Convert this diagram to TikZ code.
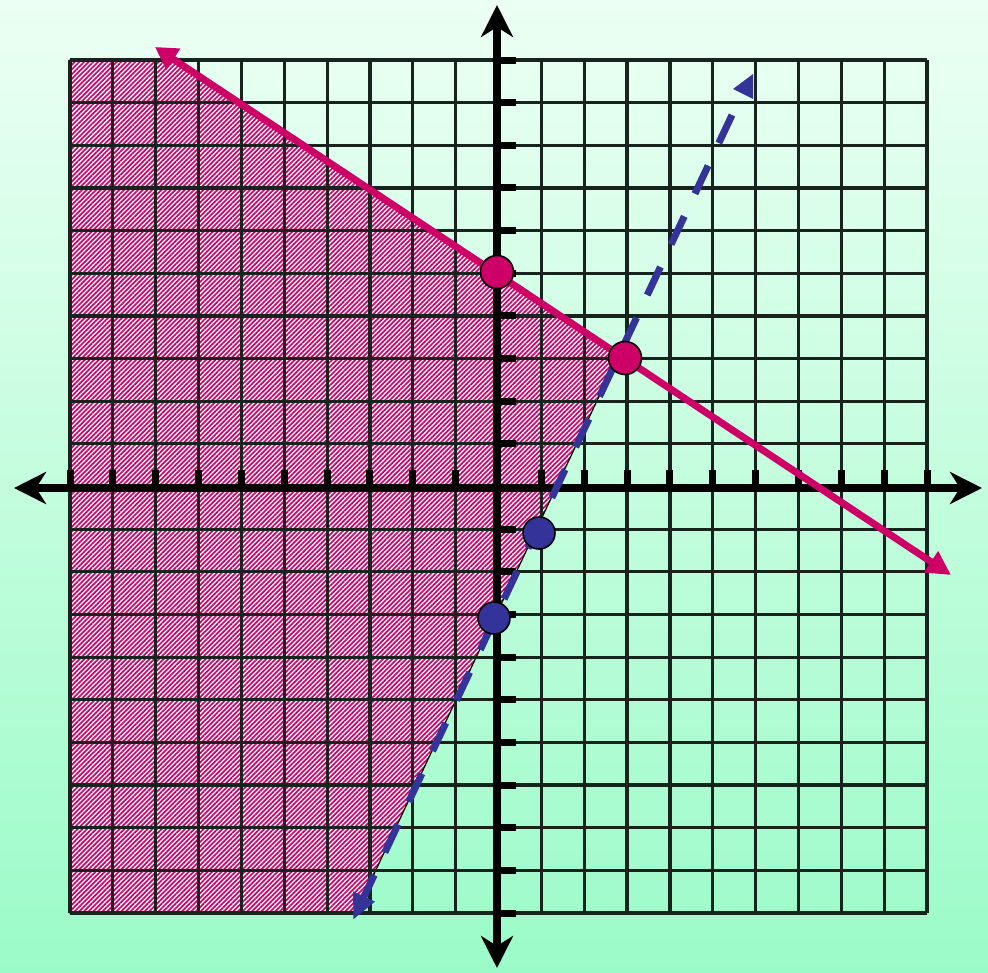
\documentclass[tikz,border=0pt]{standalone}
\usetikzlibrary{arrows.meta,patterns.meta}
\definecolor{hotred}{RGB}{204,0,102}
\definecolor{navyblue}{RGB}{51,51,153}
\definecolor{bgtop}{RGB}{236,255,244}
\definecolor{bgbot}{RGB}{155,251,200}
\definecolor{gridcol}{RGB}{25,35,30}
\tikzset{
  gridline/.style={draw=gridcol,line width=3.2pt},
  axisline/.style={draw=black,line width=8pt,{Stealth[length=32pt,width=32pt,inset=10pt]}-{Stealth[length=32pt,width=32pt,inset=10pt]}},
  tickmark/.style={draw=black,line width=7pt},
  redline/.style={draw=hotred,line width=7pt,{Triangle[length=22pt,width=24pt]}-{Triangle[length=24pt,width=24pt]}},
  blueline/.style={draw=navyblue,line width=7pt,dash pattern=on 31pt off 25pt,-{Triangle[length=26pt,width=22pt]}},
  hatch/.style={pattern={Lines[angle=45,distance=3.3pt,line width=1.7pt]},pattern color=hotred,preaction={fill=white},draw=black,line width=1.2pt},
  redpt/.style={circle,minimum size=33pt,inner sep=0pt,fill=hotred,draw=black,line width=1.6pt},
  bluept/.style={circle,minimum size=32pt,inner sep=0pt,fill=navyblue,draw=black,line width=1.6pt}
}
\begin{document}
\begin{tikzpicture}[x=1pt,y=-1pt]
\useasboundingbox (0,0) rectangle (988,972);
\shade[top color=bgtop,bottom color=bgbot] (0,0) rectangle (988,972);
% named points
\coordinate (redA) at (155,47);
\coordinate (redB) at (951,575);
\coordinate (blueT) at (732,115);
\coordinate (blueB) at (353,920);
\coordinate (rgTL) at (70,60);
\coordinate (rgTR) at (174.6,60);
\coordinate (rgX) at (619,354);
\coordinate (rgBR) at (355.6,913);
\coordinate (rgBL) at (70,913);
% shaded region
\path[hatch] (rgTL) -- (rgTR) -- (rgX) -- (rgBR) -- (rgBL) -- cycle;
% grid
\foreach \i in {0,...,20}{
  \draw[gridline] ({70+42.85*\i},60) -- ({70+42.85*\i},913);
  \draw[gridline] (70,{60+42.65*\i}) -- (927,{60+42.65*\i});
}
% axes
\coordinate (xL) at (14,488);
\coordinate (xR) at (982,488);
\coordinate (yT) at (497,5);
\coordinate (yB) at (497,968);
\draw[axisline] (xL) -- (xR);
\draw[axisline] (yT) -- (yB);
\foreach \i in {0,...,9,11,12,...,20}{
  \draw[tickmark] ({70+42.85*\i},470) -- ({70+42.85*\i},488);
  \draw[tickmark] (497,{60+42.65*\i}) -- (516,{60+42.65*\i});
}
% boundary lines
\draw[blueline] (blueT) -- (blueB);
\fill[navyblue] (733,89) -- (753,74) -- (753,99) -- cycle;
\draw[redline] (redA) -- (redB);
% points
\node[redpt] (r1) at (497,272) {};
\node[redpt] (r2) at (625,358) {};
\node[bluept] (b1) at (539,533) {};
\node[bluept] (b2) at (494,618) {};
\end{tikzpicture}
\end{document}
